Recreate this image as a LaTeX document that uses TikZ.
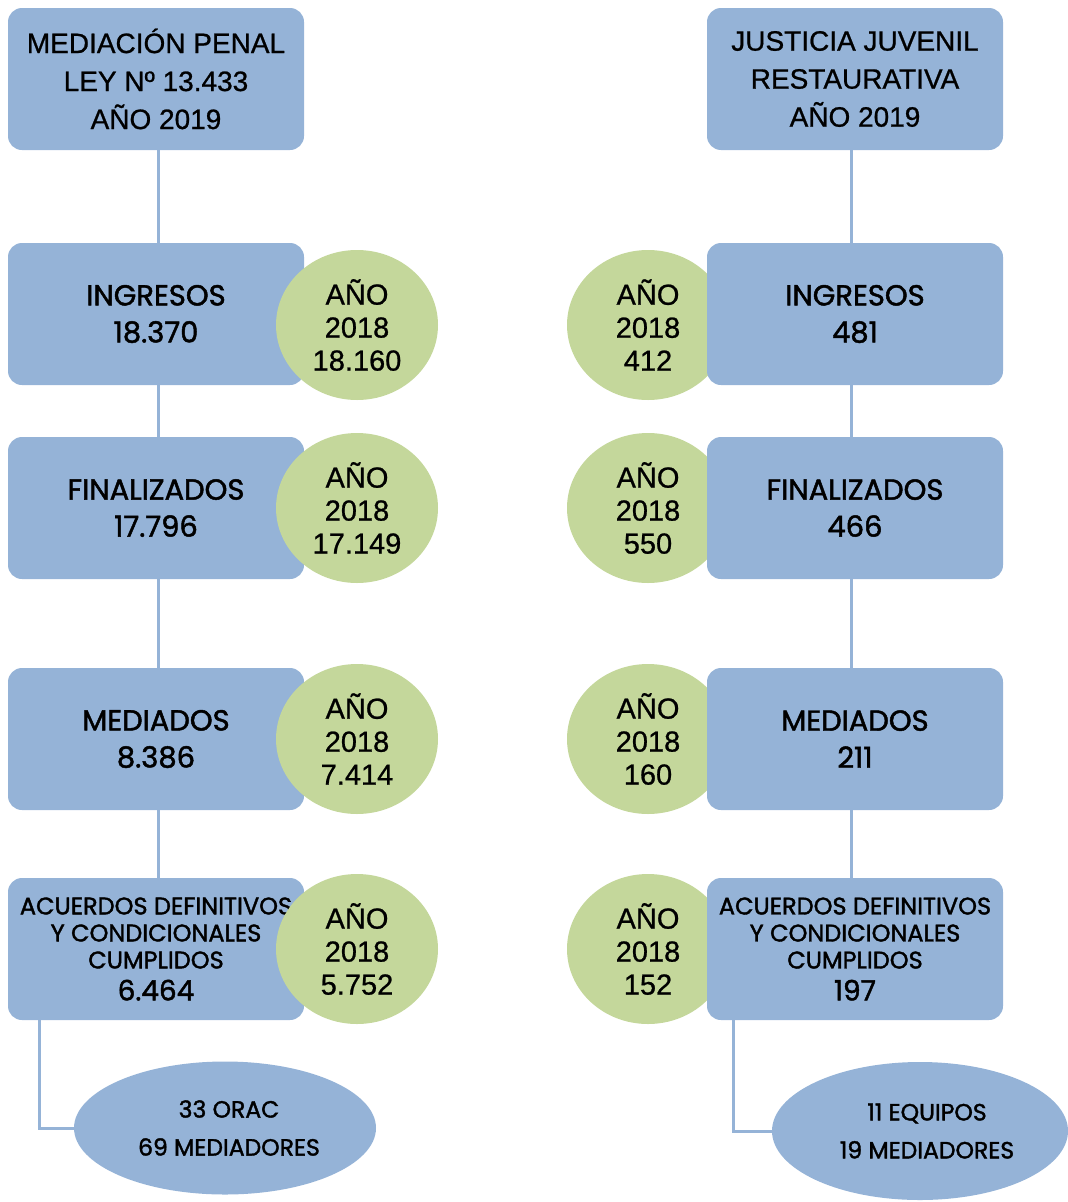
\documentclass[tikz,border=0pt]{standalone}
\usepackage{fontspec}
\setmainfont{Poppins}[FakeBold=1.6]
\newfontfamily\arialf{Liberation Sans}[FakeBold=0.8]
\usetikzlibrary{shapes.geometric}
\definecolor{boxblue}{RGB}{149,179,215}
\definecolor{circgreen}{RGB}{196,215,155}
\pgfdeclarelayer{bg}
\pgfsetlayers{bg,main}
\tikzset{
  databox/.style={rectangle, rounded corners=14pt, fill=boxblue, draw=none,
    minimum width=296pt, minimum height=142pt, align=center, inner sep=0pt,
    font=\fontsize{29}{37}\selectfont},
  headbox/.style={databox, font=\arialf\fontsize{28}{38}\selectfont},
  accbox/.style={databox, font=\fontsize{24}{27}\selectfont},
  yearcirc/.style={ellipse, fill=circgreen, draw=none, minimum width=162pt,
    minimum height=150pt, align=center, inner sep=0pt,
    font=\arialf\fontsize{29}{33}\selectfont},
  staffell/.style={ellipse, fill=boxblue, draw=none, align=center, inner sep=0pt,
    font=\fontsize{23.5}{38}\selectfont},
  link/.style={draw=boxblue, line width=3pt}
}
\begin{document}
\begin{tikzpicture}[x=1pt,y=-1pt]
\useasboundingbox (0,0) rectangle (1068,1202);
% left column
\node[headbox] (lt) at (156,79) {MEDIACIÓN PENAL\\LEY Nº 13.433\\AÑO 2019};
\node[databox] (li) at (156,314) {INGRESOS\\18.370};
\node[yearcirc] (lic) at (357,325) {AÑO\\2018\\18.160};
\node[databox] (lf) at (156,508) {FINALIZADOS\\17.796};
\node[yearcirc] (lfc) at (357,508) {AÑO\\2018\\17.149};
\node[databox] (lm) at (156,739) {MEDIADOS\\8.386};
\node[yearcirc] (lmc) at (357,739) {AÑO\\2018\\7.414};
\node[accbox] (la) at (156,949) {ACUERDOS DEFINITIVOS\\Y CONDICIONALES\\CUMPLIDOS\\[5pt]{\fontsize{28}{30}\selectfont 6.464}};
\node[yearcirc] (lac) at (357,949) {AÑO\\2018\\5.752};
\node[staffell, minimum width=302pt, minimum height=133pt] (le) at (225,1128) {\hspace*{8pt}33 ORAC\\\hspace*{8pt}69 MEDIADORES};
% right column
\node[headbox] (rt) at (855,79) {JUSTICIA JUVENIL\\RESTAURATIVA\\AÑO 2019};
\node[yearcirc] (ric) at (648,325) {AÑO\\2018\\412};
\node[databox] (ri) at (855,314) {INGRESOS\\481};
\node[yearcirc] (rfc) at (648,508) {AÑO\\2018\\550};
\node[databox] (rf) at (855,508) {FINALIZADOS\\466};
\node[yearcirc] (rmc) at (648,739) {AÑO\\2018\\160};
\node[databox] (rm) at (855,739) {MEDIADOS\\211};
\node[yearcirc] (rac) at (648,949) {AÑO\\2018\\152};
\node[accbox] (ra) at (855,949) {ACUERDOS DEFINITIVOS\\Y CONDICIONALES\\CUMPLIDOS\\[5pt]{\fontsize{28}{30}\selectfont 197}};
\node[staffell, minimum width=296pt, minimum height=138pt] (re) at (920,1131) {\hspace*{14pt}11 EQUIPOS\\\hspace*{14pt}19 MEDIADORES};
% connectors
\begin{pgfonlayer}{bg}
\draw[link] ([xshift=2pt]lt.south) -- ([xshift=2pt]la.north);
\draw[link] ([xshift=32pt]la.south west) |- (le.west);
\draw[link] ([xshift=-4pt]rt.south) -- ([xshift=-4pt]ra.north);
\draw[link] ([xshift=27pt]ra.south west) |- (re.west);
\end{pgfonlayer}
\end{tikzpicture}
\end{document}
